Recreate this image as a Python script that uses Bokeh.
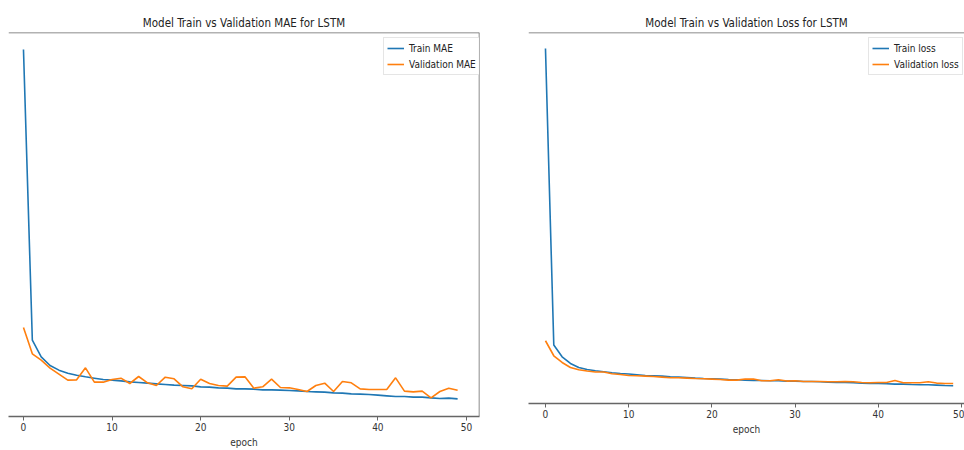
from bokeh.plotting import figure
from bokeh.layouts import row
from bokeh.models import Span, FixedTicker, Legend, LegendItem, Range1d
from bokeh.embed import file_html
from bokeh.resources import INLINE

epochs = list(range(50))

train_mae = [0.5505, 0.1145, 0.0895, 0.0765, 0.0695, 0.065, 0.062, 0.0595, 0.0575, 0.0555,
             0.0545, 0.0535, 0.052, 0.051, 0.05, 0.049, 0.048, 0.047, 0.0465, 0.046,
             0.0445, 0.044, 0.043, 0.0425, 0.0415, 0.0415, 0.041, 0.04, 0.04, 0.0395,
             0.039, 0.0385, 0.0375, 0.037, 0.0365, 0.0355, 0.035, 0.034, 0.0335, 0.033,
             0.032, 0.031, 0.030, 0.030, 0.029, 0.029, 0.028, 0.027, 0.0275, 0.0265]
val_mae = [0.1335, 0.094, 0.0845, 0.0725, 0.0635, 0.0545, 0.055, 0.073, 0.0515, 0.0515,
           0.0555, 0.0575, 0.0495, 0.060, 0.0505, 0.0465, 0.059, 0.0565, 0.0445, 0.0415,
           0.056, 0.0495, 0.0465, 0.0455, 0.059, 0.0595, 0.0425, 0.0445, 0.056, 0.0435,
           0.043, 0.0405, 0.0375, 0.0465, 0.050, 0.0375, 0.0525, 0.0505, 0.0415, 0.0405,
           0.0405, 0.0405, 0.058, 0.038, 0.037, 0.038, 0.028, 0.0375, 0.0425, 0.0395]

train_loss = [0.354, 0.0577, 0.046, 0.0393, 0.0353, 0.0333, 0.032, 0.031, 0.030, 0.0293,
              0.0287, 0.028, 0.0273, 0.027, 0.0267, 0.026, 0.0257, 0.0253, 0.0247, 0.0243,
              0.024, 0.0237, 0.0233, 0.023, 0.0227, 0.0223, 0.0223, 0.022, 0.022, 0.0217,
              0.0217, 0.0213, 0.0213, 0.021, 0.0207, 0.0203, 0.0203, 0.020, 0.0197, 0.0193,
              0.0193, 0.019, 0.0187, 0.0187, 0.0183, 0.018, 0.018, 0.0177, 0.0173, 0.017]
val_loss = [0.062, 0.047, 0.0403, 0.0353, 0.033, 0.0317, 0.0307, 0.0307, 0.029, 0.0283,
            0.0273, 0.027, 0.0267, 0.0263, 0.0257, 0.025, 0.025, 0.0247, 0.0243, 0.024,
            0.0237, 0.0233, 0.0227, 0.0227, 0.0237, 0.0237, 0.022, 0.022, 0.023, 0.0217,
            0.022, 0.0213, 0.0213, 0.0213, 0.021, 0.021, 0.0213, 0.021, 0.0203, 0.020,
            0.0203, 0.0203, 0.0223, 0.020, 0.020, 0.020, 0.021, 0.0197, 0.0193, 0.0193]

x_ticks = [0, 10, 20, 30, 40, 50]

BLUE = "#1f77b4"
ORANGE = "#ff7f0e"
FONT = "DejaVu Sans Condensed"
SPINE = "#666666"


def make_fig(title, width, height, xr, yr, border_left, border_right, border_top,
             y_train, y_val, lab_train, lab_val, legend_loc, draw_right):
    p = figure(width=width, height=height, output_backend="svg", toolbar_location=None,
               x_range=Range1d(*xr), y_range=Range1d(*yr),
               min_border_left=border_left, min_border_right=border_right,
               min_border_top=border_top, min_border_bottom=0)
    p.title.text = title
    p.title.align = "center"
    p.title.text_font = FONT
    p.title.text_font_size = "11.5px"
    p.title.text_font_style = "normal"
    p.title.text_color = "#222222"
    p.title.standoff = 5
    p.outline_line_color = None
    p.background_fill_color = "white"
    p.border_fill_color = "white"
    p.xgrid.visible = False
    p.ygrid.visible = False
    p.yaxis.visible = False

    ax = p.xaxis[0]
    ax.ticker = FixedTicker(ticks=x_ticks)
    ax.minor_tick_line_color = None
    ax.major_tick_in = 0
    ax.major_tick_out = 4
    ax.major_tick_line_color = SPINE
    ax.axis_line_color = SPINE
    ax.axis_line_width = 1.5
    ax.major_label_text_font = FONT
    ax.major_label_text_font_size = "10px"
    ax.major_label_text_color = "#333333"
    ax.major_label_standoff = 2
    ax.axis_label = "epoch"
    ax.axis_label_text_font = FONT
    ax.axis_label_text_font_size = "10px"
    ax.axis_label_text_font_style = "normal"
    ax.axis_label_text_color = "#333333"
    ax.axis_label_standoff = 3

    r1 = p.line(epochs, y_train, line_color=BLUE, line_width=1.6)
    r2 = p.line(epochs, y_val, line_color=ORANGE, line_width=1.6)

    p.add_layout(Span(location=yr[1], dimension="width", line_color=SPINE, line_width=1.5))
    if draw_right:
        p.add_layout(Span(location=xr[1], dimension="height", line_color=SPINE, line_width=1.5))

    leg = Legend(items=[LegendItem(label=lab_train, renderers=[r1]),
                        LegendItem(label=lab_val, renderers=[r2])],
                 location=legend_loc)
    leg.label_text_font = FONT
    leg.label_text_font_size = "10px"
    leg.label_text_color = "#222222"
    leg.glyph_width = 17
    leg.glyph_height = 14
    leg.label_height = 14
    leg.label_standoff = 5
    leg.spacing = 2
    leg.padding = 3
    leg.margin = 0
    leg.border_line_color = "#cccccc"
    leg.border_line_width = 1
    leg.background_fill_alpha = 0.9
    p.add_layout(leg, "center")
    return p


p1 = make_fig("Model Train vs Validation MAE for LSTM", 508, 450,
              (-1.69, 51.47), (0.0, 0.576), 8, 29, 32,
              train_mae, val_mae, "Train MAE", "Validation MAE", (375, 341), True)
p2 = make_fig("Model Train vs Validation Loss for LSTM", 456, 437,
              (-2.04, 50.36), (-0.0007, 0.370), 20, 0, 31,
              train_loss, val_loss, "Train loss", "Validation loss", (340, 328), False)

layout = row(p1, p2, spacing=0)

with open("out.html", "w") as f:
    f.write(file_html(layout, INLINE))
